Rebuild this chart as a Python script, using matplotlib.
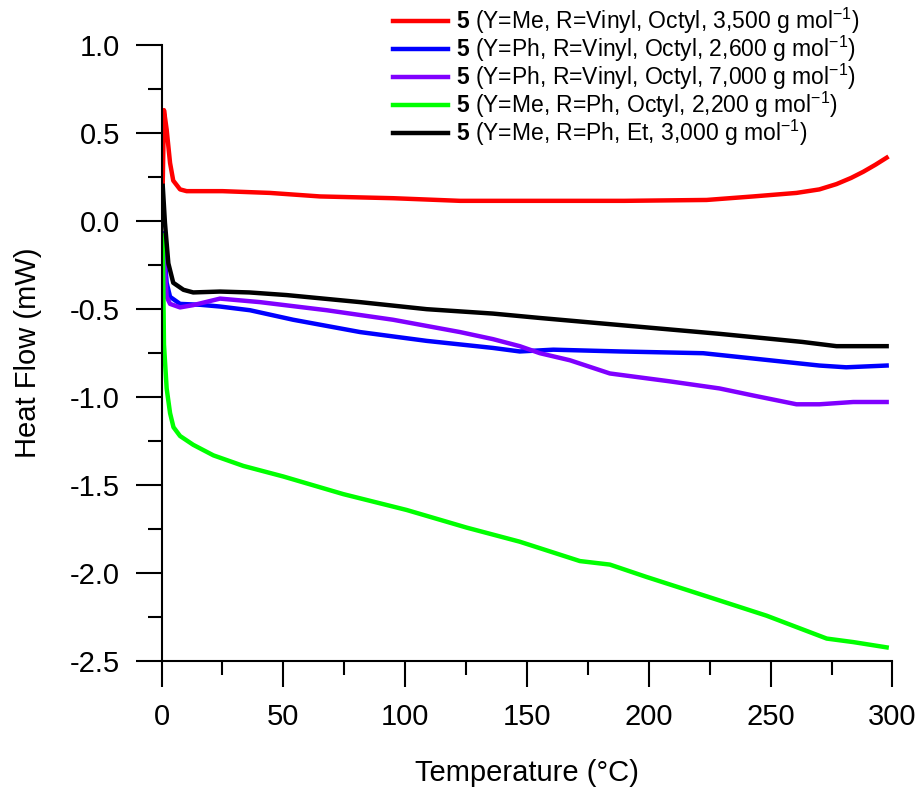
import numpy as np
import matplotlib
matplotlib.use("Agg")
import matplotlib.pyplot as plt
from matplotlib.ticker import MultipleLocator

plt.rcParams['font.family'] = ['Liberation Sans', 'DejaVu Sans']
plt.rcParams['mathtext.fontset'] = 'custom'
plt.rcParams['mathtext.rm'] = 'Liberation Sans'
plt.rcParams['mathtext.bf'] = 'Liberation Sans:bold'

# (temperature in C, heat flow in mW)
t_red = [0.5, 1.0, 2.1, 3.5, 4.8, 7.6, 10.3, 25, 44.5, 65, 95, 122.5, 155, 190, 223.7, 242.8, 260.6, 270, 277, 283, 288, 293, 297.6]
hf_red = [0.22, 0.63, 0.52, 0.33, 0.23, 0.18, 0.17, 0.17, 0.16, 0.14, 0.13, 0.115, 0.115, 0.115, 0.12, 0.14, 0.16, 0.18, 0.21, 0.245, 0.28, 0.32, 0.36]

t_blue = [0.5, 2.1, 3.5, 7.6, 15.8, 24, 36.3, 54, 81.5, 108.8, 136, 147, 160.8, 188, 222.3, 242.8, 270, 281, 297.6]
hf_blue = [-0.07, -0.35, -0.43, -0.47, -0.475, -0.485, -0.506, -0.56, -0.63, -0.68, -0.72, -0.74, -0.73, -0.74, -0.75, -0.78, -0.82, -0.83, -0.82]

t_violet = [0.5, 2.1, 3.5, 7.6, 13, 24, 40.4, 67.8, 95, 122.5, 136, 147, 155.3, 167.6, 184, 208.7, 229, 242.8, 260.6, 270, 283.9, 297.6]
hf_violet = [-0.10, -0.43, -0.47, -0.49, -0.477, -0.44, -0.46, -0.506, -0.56, -0.63, -0.67, -0.71, -0.75, -0.79, -0.865, -0.91, -0.95, -0.99, -1.04, -1.04, -1.027, -1.027]

t_green = [0.5, 1.0, 2.1, 3.5, 4.9, 7.6, 13, 21.3, 33.6, 50, 74.6, 100.6, 125.2, 147, 171.7, 184, 199, 223.7, 248.3, 273, 283.9, 297.6]
hf_green = [-0.08, -0.70, -0.95, -1.09, -1.17, -1.22, -1.27, -1.33, -1.39, -1.45, -1.55, -1.64, -1.74, -1.82, -1.93, -1.95, -2.02, -2.13, -2.24, -2.37, -2.39, -2.42]

t_black = [0.5, 1.4, 2.8, 4.8, 9, 13, 24, 36, 51.4, 81.5, 108.8, 136, 155.3, 188, 229, 263, 277, 297.6]
hf_black = [0.20, -0.01, -0.24, -0.35, -0.39, -0.405, -0.40, -0.405, -0.42, -0.46, -0.50, -0.525, -0.55, -0.59, -0.64, -0.686, -0.71, -0.71]

labels = [
    r'$\mathbf{5}$ (Y=Me, R=Vinyl, Octyl, 3,500 g mol$^{-1}$)',
    r'$\mathbf{5}$ (Y=Ph, R=Vinyl, Octyl, 2,600 g mol$^{-1}$)',
    r'$\mathbf{5}$ (Y=Ph, R=Vinyl, Octyl, 7,000 g mol$^{-1}$)',
    r'$\mathbf{5}$ (Y=Me, R=Ph, Octyl, 2,200 g mol$^{-1}$)',
    r'$\mathbf{5}$ (Y=Me, R=Ph, Et, 3,000 g mol$^{-1}$)',
]

fig = plt.figure(figsize=(9.22, 7.90), dpi=100)
ax = fig.add_axes([0.1752, 0.1627, 0.7928, 0.7804])

ax.plot(t_red, hf_red, c='#ff0000', lw=3.2, label=labels[0])
ax.plot(t_blue, hf_blue, c='#0000ff', lw=3.2, label=labels[1])
ax.plot(t_violet, hf_violet, c='#8000ff', lw=3.2, label=labels[2])
ax.plot(t_green, hf_green, c='#00ff00', lw=3.2, label=labels[3])
ax.plot(t_black, hf_black, c='black', lw=3.2, label=labels[4])

ax.set_xlim(0, 300)
ax.set_ylim(-2.5, 1.0)
ax.xaxis.set_major_locator(MultipleLocator(50))
ax.xaxis.set_minor_locator(MultipleLocator(25))
ax.yaxis.set_major_locator(MultipleLocator(0.5))
ax.yaxis.set_minor_locator(MultipleLocator(0.25))
ax.yaxis.set_major_formatter(plt.FormatStrFormatter('%.1f'))

for s in ['top', 'right']:
    ax.spines[s].set_visible(False)
for s in ['left', 'bottom']:
    ax.spines[s].set_linewidth(1.5)
ax.tick_params(which='major', direction='out', length=19, width=1.5, labelsize=21, pad=11)
ax.tick_params(which='minor', direction='out', length=10, width=1.5)

ax.set_xlabel('Temperature (°C)', fontsize=21, labelpad=20)
ax.set_ylabel('Heat Flow (mW)', fontsize=21, labelpad=20)

ax.legend(loc='upper left', bbox_to_anchor=(393 / 922, 784 / 790), bbox_transform=fig.transFigure,
          frameon=False, fontsize=16.5, handlelength=2.4, handletextpad=0.35, labelspacing=-0.1,
          borderpad=0, borderaxespad=0)

fig.savefig('out.png', dpi=100)
